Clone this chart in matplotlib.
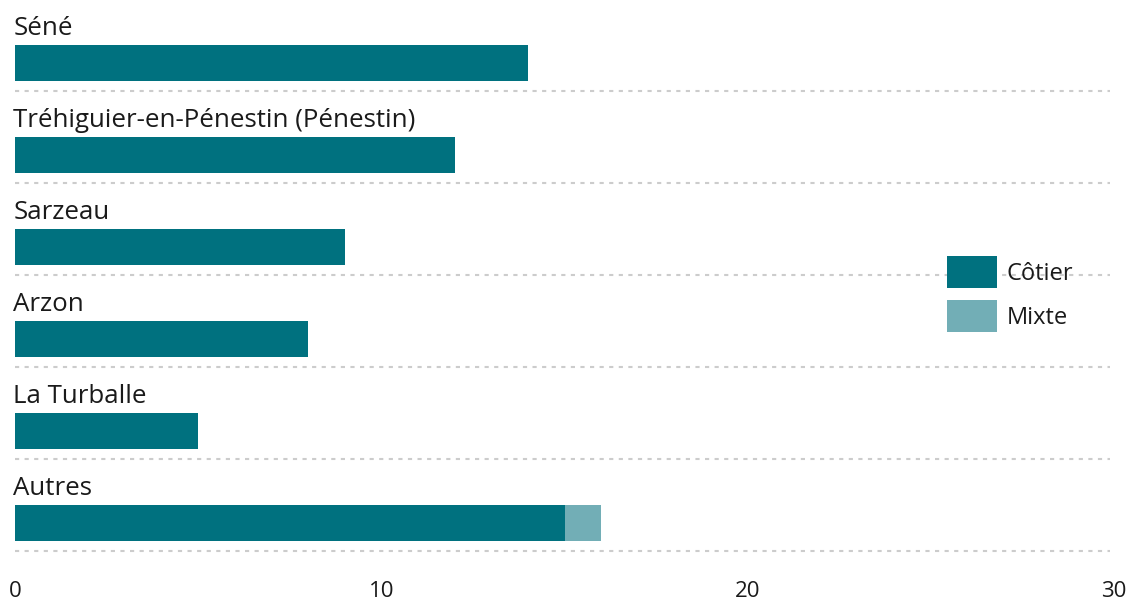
import matplotlib.pyplot as plt
from matplotlib import font_manager

communes = ["Séné", "Tréhiguier-en-Pénestin (Pénestin)", "Sarzeau", "Arzon", "La Turballe", "Autres"]
cotier = [14, 12, 9, 8, 5, 15]
mixte = [0, 0, 0, 0, 0, 1]

c_cotier = "#00717f"
c_mixte = "#72aeb6"

plt.rcParams['font.family'] = ['Open Sans', 'DejaVu Sans']
noms = {f.name for f in font_manager.fontManager.ttflist}
police_ticks = 'Liberation Sans Narrow' if 'Liberation Sans Narrow' in noms else 'Open Sans'

fig = plt.figure(figsize=(11.32, 6.02), dpi=100)
ax = fig.add_axes([15 / 1132, 1 - 560 / 602, 1099 / 1132, 560 / 602])

y = list(range(len(communes)))
ax.barh(y, cotier, height=0.39, color=c_cotier, label="Côtier", zorder=2)
ax.barh(y, mixte, left=cotier, height=0.39, color=c_mixte, label="Mixte", zorder=2)

for i, nom in enumerate(communes):
    ax.text(-0.05, i - 0.38, nom, fontsize=18.6, color='#1a1a1a',
            va='center', ha='left')
    ax.plot([0, 29.9], [i + 0.30, i + 0.30], color='#cccccc', lw=1.5,
            linestyle=(0, (2, 2.6)), zorder=1)

ax.set_xlim(0, 30)
ax.set_ylim(5.40, -0.685)
ax.set_xticks([0, 10, 20, 30])
ax.set_yticks([])
ax.tick_params(axis='x', length=0, pad=15, labelsize=16, labelcolor='#1a1a1a')
for lab in ax.get_xticklabels():
    lab.set_fontfamily(police_ticks)
for s in ax.spines.values():
    s.set_visible(False)

leg = ax.legend(loc='upper left', bbox_to_anchor=(911 / 1099, 1 - 235 / 560),
                frameon=False, fontsize=17, handlelength=2.1, handleheight=1.7,
                handletextpad=0.4, labelspacing=0.5)
for t in leg.get_texts():
    t.set_color('#1a1a1a')

fig.savefig("out.png", dpi=100)
